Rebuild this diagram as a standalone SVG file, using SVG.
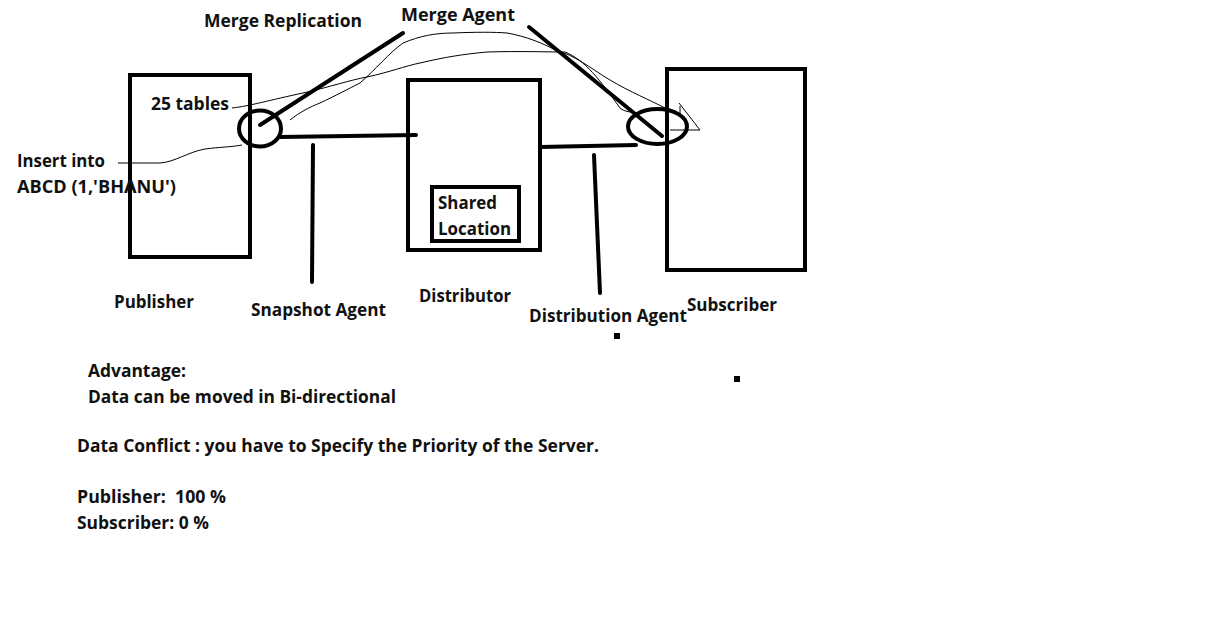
<svg xmlns="http://www.w3.org/2000/svg" width="1208" height="618" viewBox="0 0 1208 618">
<style>
text{font-family:"Open Sans","Noto Sans","Liberation Sans",sans-serif;font-weight:700;font-size:17px;fill:#111}
.box{fill:none;stroke:#000;stroke-width:4}
.thick{fill:none;stroke:#000;stroke-width:4;stroke-linecap:round}
.thin{fill:none;stroke:#000;stroke-width:1}
</style>
<rect width="1208" height="618" fill="#fff"/>
<g id="publisher">
<rect class="box" x="130" y="75" width="120" height="182"/>
<text x="151" y="110" textLength="78" lengthAdjust="spacingAndGlyphs">25 tables</text>
<text x="114" y="308" textLength="80" lengthAdjust="spacingAndGlyphs">Publisher</text>
</g>
<g id="distributor">
<rect class="box" x="408" y="80" width="132" height="170"/>
<rect class="box" x="432" y="187" width="87" height="54"/>
<text x="438" y="209" textLength="59" lengthAdjust="spacingAndGlyphs">Shared</text>
<text x="438" y="235" textLength="73" lengthAdjust="spacingAndGlyphs">Location</text>
<text x="419" y="302" textLength="92" lengthAdjust="spacingAndGlyphs">Distributor</text>
</g>
<g id="subscriber">
<rect class="box" x="667" y="69" width="138" height="201"/>
<text x="687" y="311" textLength="90" lengthAdjust="spacingAndGlyphs">Subscriber</text>
</g>
<g id="connectors">
<ellipse class="box" cx="260" cy="128.5" rx="21" ry="18"/>
<ellipse class="box" cx="657.5" cy="126.5" rx="29.5" ry="17.5"/>
<line class="thick" x1="260" y1="125" x2="403" y2="33"/>
<line class="thick" x1="529" y1="27" x2="662" y2="136"/>
<path class="thick" d="M280 137 L416 135"/>
<path class="thick" d="M540 147 L636 145"/>
<line class="thick" x1="313" y1="145" x2="312" y2="282"/>
<line class="thick" x1="594" y1="155" x2="600" y2="293"/>
<path class="thin" d="M118 163 L160 163 C175 162 188 152 205 149 C220 147 232 147 242 145"/>
<path class="thin" d="M232 108 C250 106 270 100 303 93 C330 87 350 80 367 77 C390 72 405 66 420 63 C445 57 465 54 487 52 C520 51 545 52 565 52 C585 60 600 80 620 108 C625 112 630 112 640 113"/>
<path class="thin" d="M290 120 C300 112 310 107 320 103 C335 96 350 88 360 83 C375 70 390 52 403 43 C420 36 435 33 453 33 C475 32 495 32 507 33 C525 36 545 44 555 50 C575 55 590 68 610 80 C630 92 650 100 665 108"/>
<path class="thin" d="M679 103 L700 130 L670 130 M680 106 L680 115"/>
<rect x="614" y="333" width="6" height="6" fill="#000"/>
<rect x="734" y="376" width="6" height="6" fill="#000"/>
</g>
<g id="labels">
<text x="204" y="27" textLength="158" lengthAdjust="spacingAndGlyphs">Merge Replication</text>
<text x="401" y="21" textLength="114" lengthAdjust="spacingAndGlyphs">Merge Agent</text>
<text x="17" y="167" textLength="88" lengthAdjust="spacingAndGlyphs">Insert into</text>
<text x="17" y="193" textLength="159" lengthAdjust="spacingAndGlyphs">ABCD (1,'BHANU')</text>
<text x="251" y="316" textLength="135" lengthAdjust="spacingAndGlyphs">Snapshot Agent</text>
<text x="529" y="322" textLength="158" lengthAdjust="spacingAndGlyphs">Distribution Agent</text>
<text x="88" y="377" textLength="98" lengthAdjust="spacingAndGlyphs">Advantage:</text>
<text x="88" y="403" textLength="308" lengthAdjust="spacingAndGlyphs">Data can be moved in Bi-directional</text>
<text x="77" y="452" textLength="522" lengthAdjust="spacingAndGlyphs">Data Conflict : you have to Specify the Priority of the Server.</text>
<text x="77" y="503" textLength="149" lengthAdjust="spacingAndGlyphs" xml:space="preserve">Publisher:  100 %</text>
<text x="77" y="529" textLength="132" lengthAdjust="spacingAndGlyphs">Subscriber: 0 %</text>
</g>
</svg>
